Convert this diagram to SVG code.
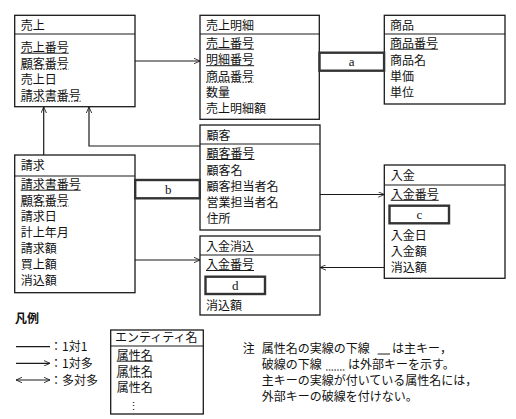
<svg xmlns="http://www.w3.org/2000/svg" width="516" height="419" viewBox="0 0 516 419">
<defs>
<marker id="arr" viewBox="0 0 10 10" refX="10" refY="5" markerWidth="6" markerHeight="6" markerUnits="userSpaceOnUse" orient="auto-start-reverse">
<path d="M0,0.5 L10,5 L0,9.5" fill="none" stroke="#1a1a1a" stroke-width="1.4"/>
</marker>
</defs>
<style>
text{font-family:"Noto Sans CJK JP","Noto Sans",sans-serif;font-size:12px;fill:#111}
.lbl{font-family:"Liberation Serif",serif;font-size:13px;text-anchor:middle}
.box{fill:#fff;stroke:#1a1a1a;stroke-width:1.3}
.sep{stroke:#1a1a1a;stroke-width:1.2}
.pk{stroke:#1a1a1a;stroke-width:1}
.fk{stroke:#1a1a1a;stroke-width:1;stroke-dasharray:1.6 1.2}
.con{fill:none;stroke:#1a1a1a;stroke-width:1.2}
.rel{fill:#fff;stroke:#333;stroke-width:2.4}
</style>
<rect width="516" height="419" fill="#fff"/>

<g id="connectors">
<line class="con" x1="135" y1="61" x2="200" y2="61" marker-end="url(#arr)"/>
<polyline class="con" points="200,146 89,146 89,107" marker-end="url(#arr)"/>
<line class="con" x1="43.7" y1="155" x2="43.7" y2="107" marker-end="url(#arr)"/>
<line class="con" x1="320" y1="194.5" x2="384.3" y2="194.5" marker-end="url(#arr)"/>
<line class="con" x1="135" y1="260" x2="200" y2="260" marker-end="url(#arr)"/>
<line class="con" x1="384.3" y1="267.5" x2="320" y2="267.5" marker-end="url(#arr)"/>
</g>

<g id="uriage">
<rect class="box" x="14.7" y="15.3" width="120.3" height="91.4"/>
<line class="sep" x1="14.7" y1="34" x2="135" y2="34"/>
<text x="20.7" y="29.5">売上</text>
<text x="20.7" y="51.5">売上番号</text>
<line class="pk" x1="20.7" y1="53.2" x2="68.7" y2="53.2"/>
<text x="20.7" y="67.5">顧客番号</text>
<line class="fk" x1="20.7" y1="69.2" x2="68.7" y2="69.2"/>
<text x="20.7" y="83.5">売上日</text>
<text x="20.7" y="99.5">請求書番号</text>
<line class="fk" x1="20.7" y1="101.2" x2="80.7" y2="101.2"/>
</g>

<g id="uriage-meisai">
<rect class="box" x="200" y="15.3" width="119.3" height="104"/>
<line class="sep" x1="200" y1="34" x2="319.3" y2="34"/>
<text x="206" y="29.5">売上明細</text>
<text x="206" y="47.5">売上番号</text>
<line class="pk" x1="206" y1="49.2" x2="254" y2="49.2"/>
<text x="206" y="64">明細番号</text>
<line class="pk" x1="206" y1="65.7" x2="254" y2="65.7"/>
<text x="206" y="80.5">商品番号</text>
<line class="fk" x1="206" y1="82.2" x2="254" y2="82.2"/>
<text x="206" y="96.5">数量</text>
<text x="206" y="112.5">売上明細額</text>
</g>

<g id="shohin">
<rect class="box" x="384.3" y="15.3" width="120.7" height="88.7"/>
<line class="sep" x1="384.3" y1="34" x2="505" y2="34"/>
<text x="390" y="29.5">商品</text>
<text x="390" y="47.5">商品番号</text>
<line class="pk" x1="390" y1="49.2" x2="438" y2="49.2"/>
<text x="390" y="64.5">商品名</text>
<text x="390" y="80.5">単価</text>
<text x="390" y="96.5">単位</text>
</g>

<g id="rel-a">
<rect class="rel" x="319.5" y="52.7" width="64.6" height="18"/>
<text class="lbl" x="351.7" y="66">a</text>
</g>

<g id="kokyaku">
<rect class="box" x="200" y="125" width="120" height="105"/>
<line class="sep" x1="200" y1="144" x2="320" y2="144"/>
<text x="206.5" y="139.5">顧客</text>
<text x="206.5" y="157.5">顧客番号</text>
<line class="pk" x1="206.5" y1="159.5" x2="254.5" y2="159.5"/>
<text x="206.5" y="174.5">顧客名</text>
<text x="206.5" y="190.5">顧客担当者名</text>
<text x="206.5" y="206.5">営業担当者名</text>
<text x="206.5" y="222.5">住所</text>
</g>

<g id="seikyu">
<rect class="box" x="14.7" y="155" width="120.3" height="137.7"/>
<line class="sep" x1="14.7" y1="176" x2="135" y2="176"/>
<text x="20.7" y="169.5">請求</text>
<text x="20.7" y="188.5">請求書番号</text>
<line class="pk" x1="20.7" y1="190.2" x2="80.7" y2="190.2"/>
<text x="20.7" y="204.5">顧客番号</text>
<line class="fk" x1="20.7" y1="206.2" x2="68.7" y2="206.2"/>
<text x="20.7" y="221">請求日</text>
<text x="20.7" y="237">計上年月</text>
<text x="20.7" y="253">請求額</text>
<text x="20.7" y="269">買上額</text>
<text x="20.7" y="285">消込額</text>
</g>

<g id="rel-b">
<rect class="rel" x="135.2" y="180" width="64.6" height="18.3"/>
<text class="lbl" x="168.3" y="193.5">b</text>
</g>

<g id="nyukin-keshikomi">
<rect class="box" x="200" y="236" width="120" height="79"/>
<line class="sep" x1="200" y1="255" x2="320" y2="255"/>
<text x="206" y="250.5">入金消込</text>
<text x="206" y="268.5">入金番号</text>
<line class="pk" x1="206" y1="270.5" x2="254" y2="270.5"/>
<rect class="rel" x="205.5" y="276.7" width="59.5" height="17.3"/>
<text class="lbl" x="235.3" y="289.5">d</text>
<text x="206" y="309.5">消込額</text>
</g>

<g id="nyukin">
<rect class="box" x="384.3" y="165" width="120.7" height="113.3"/>
<line class="sep" x1="384.3" y1="185" x2="505" y2="185"/>
<text x="390.7" y="180">入金</text>
<text x="390.7" y="198.5">入金番号</text>
<line class="pk" x1="390.7" y1="200.3" x2="438.7" y2="200.3"/>
<rect class="rel" x="389.5" y="205.7" width="59.5" height="17.6"/>
<text class="lbl" x="419.3" y="218.5">c</text>
<text x="390.7" y="239.5">入金日</text>
<text x="390.7" y="255.5">入金額</text>
<text x="390.7" y="271.5">消込額</text>
</g>

<g id="legend">
<text x="15" y="322.5" style="font-weight:bold">凡例</text>
<line class="con" x1="16" y1="346.7" x2="50" y2="346.7"/>
<text x="50" y="351.2">：1対1</text>
<line class="con" x1="16" y1="363.3" x2="50" y2="363.3" marker-end="url(#arr)"/>
<text x="50" y="367.8">：1対多</text>
<line class="con" x1="16" y1="380" x2="50" y2="380" marker-start="url(#arr)" marker-end="url(#arr)"/>
<text x="50" y="384.5">：多対多</text>
</g>

<g id="legend-entity">
<rect class="box" x="110.7" y="330" width="92.6" height="84"/>
<line class="sep" x1="110.7" y1="346" x2="203.3" y2="346"/>
<text x="115" y="342.3">エンティティ名</text>
<text x="116.7" y="359.5">属性名</text>
<line class="pk" x1="116.7" y1="361.2" x2="152.7" y2="361.2"/>
<text x="116.7" y="375.5">属性名</text>
<line class="fk" x1="116.7" y1="377.2" x2="152.7" y2="377.2"/>
<text x="116.7" y="391.5">属性名</text>
<text x="133.3" y="410" style="text-anchor:middle;font-size:11px">⋮</text>
</g>

<g id="note">
<text x="242.7" y="352.5">注</text>
<text x="261.7" y="352.5">属性名の実線の下線</text>
<line class="pk" x1="377.7" y1="354" x2="390" y2="354"/>
<text x="392" y="352.5">は主キー，</text>
<text x="261.7" y="368.5">破線の下線</text>
<line class="fk" x1="326" y1="370" x2="345" y2="370"/>
<text x="348" y="368.5">は外部キーを示す。</text>
<text x="261.7" y="384.5">主キーの実線が付いている属性名には，</text>
<text x="261.7" y="400.5">外部キーの破線を付けない。</text>
</g>
</svg>
